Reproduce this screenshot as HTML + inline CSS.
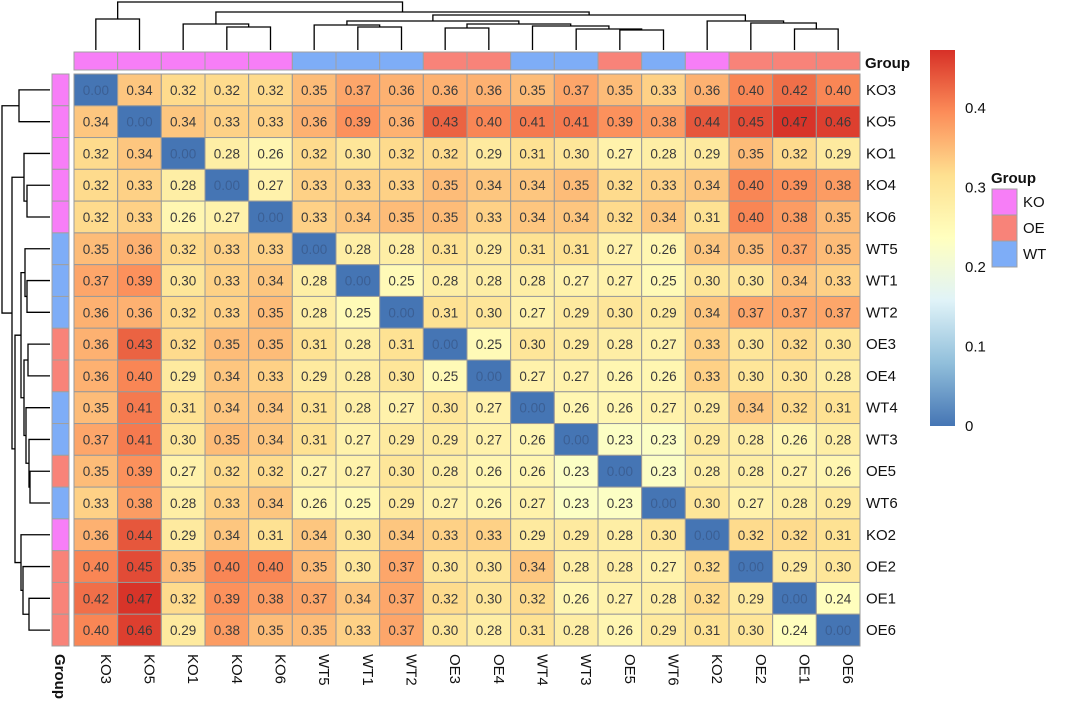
<!DOCTYPE html>
<html><head><meta charset="utf-8"><style>
body{margin:0;background:#fff;}
svg{display:block;font-family:"Liberation Sans",sans-serif;}
</style></head><body>
<svg id="c" width="1080" height="720"></svg>
<script>
const labels=["KO3","KO5","KO1","KO4","KO6","WT5","WT1","WT2","OE3","OE4","WT4","WT3","OE5","WT6","KO2","OE2","OE1","OE6"];
const groups=["KO","KO","KO","KO","KO","WT","WT","WT","OE","OE","WT","WT","OE","WT","KO","OE","OE","OE"];
const row0=[0.00,0.34,0.32,0.32,0.32,0.35,0.37,0.36,0.36,0.36,0.35,0.37,0.35,0.33,0.36,0.40,0.42,0.40];
const row1=[0.34,0.00,0.34,0.33,0.33,0.36,0.39,0.36,0.43,0.40,0.41,0.41,0.39,0.38,0.44,0.45,0.47,0.46];
const row2=[0.32,0.34,0.00,0.28,0.26,0.32,0.30,0.32,0.32,0.29,0.31,0.30,0.27,0.28,0.29,0.35,0.32,0.29];
const row3=[0.32,0.33,0.28,0.00,0.27,0.33,0.33,0.33,0.35,0.34,0.34,0.35,0.32,0.33,0.34,0.40,0.39,0.38];
const row4=[0.32,0.33,0.26,0.27,0.00,0.33,0.34,0.35,0.35,0.33,0.34,0.34,0.32,0.34,0.31,0.40,0.38,0.35];
const row5=[0.35,0.36,0.32,0.33,0.33,0.00,0.28,0.28,0.31,0.29,0.31,0.31,0.27,0.26,0.34,0.35,0.37,0.35];
const row6=[0.37,0.39,0.30,0.33,0.34,0.28,0.00,0.25,0.28,0.28,0.28,0.27,0.27,0.25,0.30,0.30,0.34,0.33];
const row7=[0.36,0.36,0.32,0.33,0.35,0.28,0.25,0.00,0.31,0.30,0.27,0.29,0.30,0.29,0.34,0.37,0.37,0.37];
const row8=[0.36,0.43,0.32,0.35,0.35,0.31,0.28,0.31,0.00,0.25,0.30,0.29,0.28,0.27,0.33,0.30,0.32,0.30];
const row9=[0.36,0.40,0.29,0.34,0.33,0.29,0.28,0.30,0.25,0.00,0.27,0.27,0.26,0.26,0.33,0.30,0.30,0.28];
const row10=[0.35,0.41,0.31,0.34,0.34,0.31,0.28,0.27,0.30,0.27,0.00,0.26,0.26,0.27,0.29,0.34,0.32,0.31];
const row11=[0.37,0.41,0.30,0.35,0.34,0.31,0.27,0.29,0.29,0.27,0.26,0.00,0.23,0.23,0.29,0.28,0.26,0.28];
const row12=[0.35,0.39,0.27,0.32,0.32,0.27,0.27,0.30,0.28,0.26,0.26,0.23,0.00,0.23,0.28,0.28,0.27,0.26];
const row13=[0.33,0.38,0.28,0.33,0.34,0.26,0.25,0.29,0.27,0.26,0.27,0.23,0.23,0.00,0.30,0.27,0.28,0.29];
const row14=[0.36,0.44,0.29,0.34,0.31,0.34,0.30,0.34,0.33,0.33,0.29,0.29,0.28,0.30,0.00,0.32,0.32,0.31];
const row15=[0.40,0.45,0.35,0.40,0.40,0.35,0.30,0.37,0.30,0.30,0.34,0.28,0.28,0.27,0.32,0.00,0.29,0.30];
const row16=[0.42,0.47,0.32,0.39,0.38,0.37,0.34,0.37,0.32,0.30,0.32,0.26,0.27,0.28,0.32,0.29,0.00,0.24];
const row17=[0.40,0.46,0.29,0.38,0.35,0.35,0.33,0.37,0.30,0.28,0.31,0.28,0.26,0.29,0.31,0.30,0.24,0.00];
const values=[row0,row1,row2,row3,row4,row5,row6,row7,row8,row9,row10,row11,row12,row13,row14,row15,row16,row17];
const legendTicks=[0,0.1,0.2,0.3,0.4];
// dendrogram merges: [left, right, height]; leaves are indices, clusters 'cN'
const merges=[[0,1,31],[3,4,23],[2,"c1",26],[6,7,23],[5,"c3",25],[8,9,22],[12,13,20],[11,"c6",21],[10,"c7",24],["c5","c8",26],["c4","c9",29],[16,17,21],[15,"c11",27],[14,"c12",29],["c10","c13",35],["c2","c14",38],["c0","c15",48]];
const groupColors={KO:"#F77EF7",OE:"#F88379",WT:"#7EADF7"};

const NS="http://www.w3.org/2000/svg",svg=document.getElementById("c");
function el(t,a,p){const e=document.createElementNS(NS,t);for(const k in a)e.setAttribute(k,a[k]);(p||svg).appendChild(e);return e;}
const X0=74,Y0=74,CW=(860-74)/18,CH=(646-74)/18,VMAX=0.473;
const xS=i=>X0+i*CW, yS=i=>Y0+i*CH;
const stops=["#4575B4","#91BFDB","#E0F3F8","#FFFFBF","#FEE090","#FC8D59","#D73027"];
function hex(h){return [1,3,5].map(i=>parseInt(h.substr(i,2),16));}
function col(v){let t=Math.max(0,Math.min(1,v/VMAX))*6;let i=Math.min(5,Math.floor(t)),f=t-i;const a=hex(stops[i]),b=hex(stops[i+1]);return "rgb("+a.map((x,k)=>Math.round(x+(b[k]-x)*f)).join(",")+")";}

// cells
for(let r=0;r<18;r++)for(let c=0;c<18;c++){
  const v=values[r][c];
  const rc=el("rect",{x:xS(c),y:yS(r),width:CW,height:CH,fill:col(v),stroke:"#999","stroke-width":1});
  
  
  const tx=el("text",{x:xS(c)+CW/2,y:yS(r)+CH/2+5,"text-anchor":"middle","font-size":13.5,fill:v===0?"#3b5f94":"#3a3a3a"});
  tx.textContent=v.toFixed(2);
  
  
}
// labels
labels.forEach((l,i)=>{
  const t=el("text",{x:866,y:yS(i)+CH/2+5,"font-size":15,fill:"#111"});t.textContent=l;
  
  
  const cx=xS(i)+CW/2+5;
  const t2=el("text",{x:cx,y:654,"font-size":15,fill:"#111",transform:`rotate(90 ${cx} 654)`});t2.textContent=l;
  
  
  const a=el("rect",{x:xS(i),y:52,width:CW,height:18,fill:groupColors[groups[i]],stroke:"#A0A0A0"});
  
  
  const b=el("rect",{x:52,y:yS(i),width:17,height:CH,fill:groupColors[groups[i]],stroke:"#A0A0A0"});
  
  
});
let g=el("text",{x:865,y:68,"font-size":15,"font-weight":"bold",fill:"#111"});g.textContent="Group";

g=el("text",{x:55,y:654,"font-size":15,"font-weight":"bold",fill:"#111",transform:"rotate(90 55 654)"});g.textContent="Group";


// dendrograms
const hp=h=>50-h;
const pos={},ht={};
for(let i=0;i<18;i++){pos[i]=i+0.5;ht[i]=0;}
merges.forEach((m,k)=>{
  const a=m[0],b=m[1],h=m[2];
  const pa=pos[a],pb=pos[b],ha=ht[a],hb=ht[b];
  const colPath=`M${X0+pa*CW},${hp(ha)} V${hp(h)} H${X0+pb*CW} V${hp(hb)}`;
  const p1=el("path",{d:colPath,fill:"none",stroke:"#000","stroke-width":1.3});
  
  
  const rowPath=`M${hp(ha)},${Y0+pa*CH} H${hp(h)} V${Y0+pb*CH} H${hp(hb)}`;
  const p2=el("path",{d:rowPath,fill:"none",stroke:"#000","stroke-width":1.3});
  
  
  pos["c"+k]=(pa+pb)/2;ht["c"+k]=h;
});

// color legend
const defs=el("defs",{});const lg=el("linearGradient",{id:"lg",x1:0,y1:1,x2:0,y2:0},defs);
stops.forEach((s,i)=>el("stop",{offset:i/6,"stop-color":s},lg));
const LB=426,LT=50;const ly=v=>LB-v/VMAX*(LB-LT);
const bar=el("rect",{x:930,y:LT,width:25,height:LB-LT,fill:"url(#lg)"});

legendTicks.forEach(v=>{const t=el("text",{x:965,y:ly(v)+5,"font-size":15,fill:"#111"});t.textContent=String(v);
  });
g=el("text",{x:991,y:183,"font-size":15,"font-weight":"bold",fill:"#111"});g.textContent="Group";

["KO","OE","WT"].forEach((k,i)=>{
  const r=el("rect",{x:992,y:189+i*26,width:25,height:26,fill:groupColors[k],stroke:"#A0A0A0"});
  
  const t=el("text",{x:1023,y:207+i*26,"font-size":15,fill:"#111"});t.textContent=k;
  
});
</script>
</body></html>
